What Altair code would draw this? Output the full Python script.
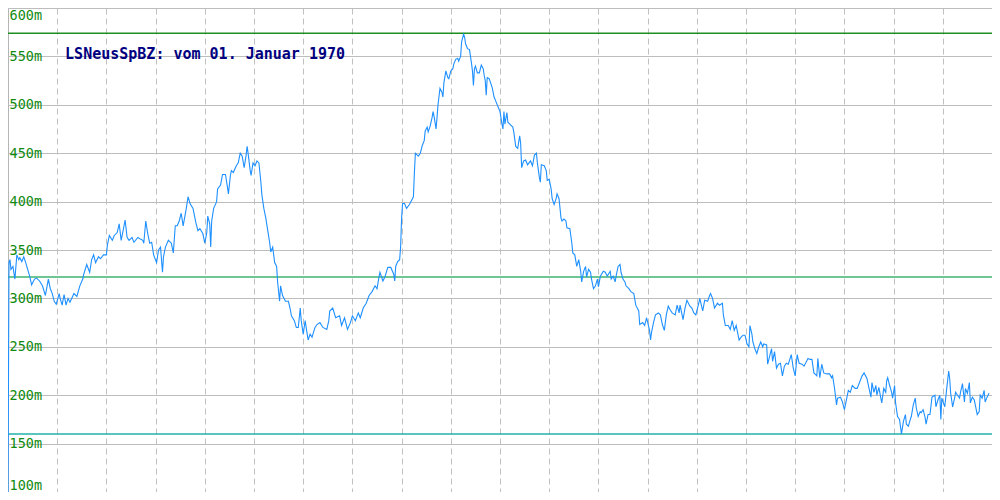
import altair as alt
import pandas as pd

# time offset (arbitrary units along the period shown) and value in "m"
t = [0, 1, 2, 3, 5, 7, 9, 11, 12, 14, 16, 18, 20, 22, 24, 27, 29, 32, 35, 38, 41, 43, 45, 47, 49, 52, 53, 55, 57, 59,
     61, 63, 67, 70, 73, 76, 77, 80, 83, 85, 87, 89, 92, 94, 97, 100, 101, 103, 106, 108, 111, 113, 115, 117, 119, 121,
     123, 126, 128, 132, 135, 137, 138, 140, 142, 144, 146, 148, 151, 153, 155, 157, 158, 160, 163, 166, 168, 170, 172,
     174, 176, 178, 181, 183, 185, 188, 191, 193, 195, 198, 200, 202, 203, 205, 206, 207, 209, 212, 213, 216, 218, 221,
     223, 224, 226, 227, 229, 232, 234, 236, 238, 240, 242, 243, 244, 246, 247, 249, 251, 253, 255, 257, 258, 260, 262,
     264, 266, 267, 269, 271, 273, 274, 276, 277, 279, 282, 285, 287, 288, 291, 293, 295, 297, 298, 300, 302, 303, 305,
     307, 309, 312, 314, 317, 320, 324, 326, 327, 330, 333, 337, 339, 342, 345, 348, 350, 353, 356, 358, 361, 364, 367,
     370, 373, 375, 377, 378, 381, 383, 386, 389, 392, 393, 394, 396, 398, 399, 400, 401, 403, 405, 408, 412, 413, 414,
     417, 419, 421, 423, 424, 426, 427, 429, 431, 432, 433, 435, 436, 437, 439, 441, 442, 443, 445, 447, 448, 450, 452,
     453, 455, 457, 458, 460, 461, 463, 464, 465, 467, 469, 471, 472, 473, 474, 475, 477, 479, 481, 483, 484, 485, 486,
     487, 489, 492, 494, 496, 498, 500, 502, 503, 504, 505, 507, 508, 510, 513, 514, 516, 518, 520, 521, 522, 524, 526,
     528, 531, 533, 535, 537, 538, 540, 541, 542, 545, 547, 548, 550, 552, 553, 555, 557, 558, 560, 562, 563, 565, 567,
     568, 571, 573, 574, 576, 578, 580, 582, 583, 585, 587, 588, 590, 592, 593, 595, 597, 599, 600, 602, 605, 607, 609,
     612, 613, 615, 617, 618, 620, 622, 623, 625, 627, 628, 631, 633, 636, 638, 641, 642, 645, 647, 649, 652, 653, 654,
     656, 658, 661, 663, 665, 667, 669, 671, 673, 675, 678, 680, 682, 683, 686, 688, 690, 693, 695, 697, 699, 702, 703,
     706, 708, 711, 713, 714, 716, 718, 721, 723, 726, 727, 729, 732, 734, 736, 738, 740, 743, 745, 747, 749, 751, 753,
     754, 756, 757, 759, 761, 763, 765, 767, 768, 771, 772, 774, 776, 777, 779, 781, 783, 785, 787, 789, 791, 793, 796,
     798, 800, 802, 804, 807, 809, 813, 815, 817, 819, 822, 823, 825, 827, 829, 832, 835, 837, 838, 840, 842, 843, 846,
     848, 850, 852, 854, 856, 858, 861, 863, 866, 868, 870, 873, 875, 877, 878, 880, 882, 883, 885, 887, 888, 890, 892,
     893, 894, 896, 898, 899, 901, 902, 904, 906, 908, 910, 912, 913, 915, 917, 918, 920, 922, 923, 925, 927, 928, 930,
     932, 933, 935, 937, 939, 942, 943, 945, 947, 948, 949, 952, 954, 956, 957, 958, 960, 962, 963, 965, 967, 968, 970,
     972, 973, 975, 977, 978, 980, 982, 983, 985, 987, 988, 990, 992, 993, 995, 997]

v = [100, 337, 340, 330, 333, 320, 345, 340, 342, 338, 343, 337, 330, 323, 314, 320, 321, 318, 313, 303, 320, 310, 305,
     297, 294, 305, 300, 293, 304, 293, 300, 296, 305, 302, 313, 320, 325, 335, 327, 340, 345, 337, 343, 341, 345, 345,
     355, 365, 360, 365, 368, 377, 360, 370, 381, 363, 360, 363, 358, 363, 361, 360, 357, 380, 367, 357, 358, 345, 337,
     350, 353, 327, 343, 353, 360, 357, 347, 375, 375, 380, 388, 375, 392, 405, 398, 393, 378, 370, 372, 367, 357, 368,
     385, 377, 353, 380, 393, 400, 413, 417, 428, 428, 415, 408, 427, 432, 430, 437, 440, 450, 447, 435, 448, 457, 450,
     433, 427, 440, 437, 442, 440, 420, 407, 393, 383, 370, 357, 348, 353, 337, 333, 317, 297, 313, 303, 297, 297, 288,
     282, 277, 270, 270, 290, 277, 263, 277, 270, 257, 263, 260, 270, 273, 275, 270, 268, 277, 287, 290, 280, 282, 272,
     280, 268, 275, 282, 277, 285, 280, 290, 295, 303, 307, 313, 310, 322, 327, 318, 322, 332, 332, 325, 318, 333, 338,
     340, 353, 383, 398, 398, 393, 397, 405, 430, 450, 447, 450, 458, 463, 473, 477, 472, 478, 487, 493, 488, 475, 487,
     500, 517, 513, 508, 523, 535, 528, 527, 535, 537, 542, 547, 548, 545, 550, 565, 573, 570, 563, 558, 557, 543, 535,
     520, 537, 540, 533, 533, 541, 537, 530, 525, 510, 528, 527, 518, 508, 503, 498, 493, 480, 475, 493, 480, 492, 482,
     480, 477, 472, 457, 455, 468, 460, 435, 442, 443, 438, 442, 437, 448, 450, 440, 425, 420, 438, 437, 432, 422, 423,
     413, 403, 397, 403, 408, 403, 383, 380, 382, 380, 373, 372, 357, 347, 345, 333, 340, 328, 317, 328, 333, 322, 330,
     327, 320, 310, 313, 320, 312, 323, 328, 327, 323, 328, 320, 323, 317, 323, 333, 335, 327, 320, 317, 313, 310, 307,
     305, 293, 287, 273, 275, 272, 280, 267, 257, 265, 275, 283, 285, 283, 273, 267, 283, 292, 288, 285, 283, 293, 285,
     293, 278, 290, 298, 292, 290, 285, 283, 295, 300, 287, 298, 297, 303, 305, 300, 290, 295, 293, 295, 283, 272, 272,
     268, 277, 267, 272, 257, 260, 262, 262, 253, 250, 272, 263, 255, 248, 243, 250, 255, 250, 253, 252, 232, 240, 248,
     235, 245, 228, 232, 233, 220, 230, 233, 232, 242, 228, 220, 242, 233, 232, 230, 238, 237, 237, 223, 220, 238, 218,
     232, 223, 222, 222, 218, 220, 207, 190, 197, 198, 193, 185, 195, 205, 203, 210, 207, 207, 215, 220, 223, 217, 207,
     198, 213, 203, 210, 200, 208, 197, 192, 207, 203, 215, 218, 210, 203, 197, 210, 192, 178, 175, 160, 173, 180, 170,
     168, 175, 178, 190, 197, 187, 178, 183, 182, 185, 177, 170, 180, 180, 198, 200, 188, 195, 200, 175, 197, 188, 207,
     225, 217, 202, 188, 197, 203, 200, 197, 203, 212, 193, 207, 202, 213, 192, 198, 195, 190, 180, 183, 200, 197, 205,
     193, 198, 202]

# reference levels: maximum, average, minimum
level_names = ["max", "avg", "min"]
level_values = [574, 322, 160]
level_colors = ["#1f8f1f", "#3cb371", "#20b2aa"]

y_ticks = [100, 150, 200, 250, 300, 350, 400, 450, 500, 550, 600]
x_grid = [50, 100, 150, 200, 250, 300, 350, 400, 450, 500, 550, 600, 650, 700, 750, 800, 850, 900, 950]

title_text = ["LSNeusSpBZ: vom 01. Januar 1970"]
title_t = [58]
title_v = [552]

series = pd.DataFrame({"t": t, "v": v})
levels = pd.DataFrame({"name": level_names, "level": level_values})
label = pd.DataFrame({"text": title_text, "t": title_t, "v": title_v})

xscale = alt.Scale(domain=[0, 1000], nice=False, zero=False)
yscale = alt.Scale(domain=[100, 600], nice=False, zero=False)

xaxis = alt.Axis(values=x_grid, grid=True, gridDash=[6, 4], gridColor="#c0c0c0", gridOpacity=1,
                 labels=False, ticks=False, domain=False, title=None)
yaxis = alt.Axis(values=y_ticks, grid=True, gridColor="#bdbdbd", gridOpacity=1,
                 labelExpr="datum.value + 'm'", labelAlign="left", labelPadding=-1, tickSize=0,
                 ticks=False, domain=False, title=None, labelFlush=True, labelOverlap=False,
                 labelColor="#108a10", labelFont="DejaVu Sans Mono", labelFontSize=13.5)

line = alt.Chart(series).mark_line(color="#1e90ff", strokeWidth=1.1, clip=True).encode(
    x=alt.X("t:Q", scale=xscale, axis=xaxis),
    y=alt.Y("v:Q", scale=yscale, axis=yaxis),
    order="t:Q",
)

rules = alt.Chart(levels).mark_rule(strokeWidth=1.5).encode(
    y=alt.Y("level:Q", scale=yscale),
    color=alt.Color("name:N", scale=alt.Scale(domain=level_names, range=level_colors), legend=None),
)

text = alt.Chart(label).mark_text(align="left", baseline="middle", font="DejaVu Sans Mono",
                                  fontSize=15, fontWeight="bold", color="#000080").encode(
    x=alt.X("t:Q", scale=xscale),
    y=alt.Y("v:Q", scale=yscale),
    text="text:N",
)

chart = alt.layer(rules, line, text).properties(
    width=984, height=484, autosize=alt.AutoSizeParams(type="none"), padding=0,
    background="white",
).configure_view(stroke="#b5b5b5", strokeWidth=1)

chart.save("out.html", embed_options={"renderer": "svg", "actions": False})
